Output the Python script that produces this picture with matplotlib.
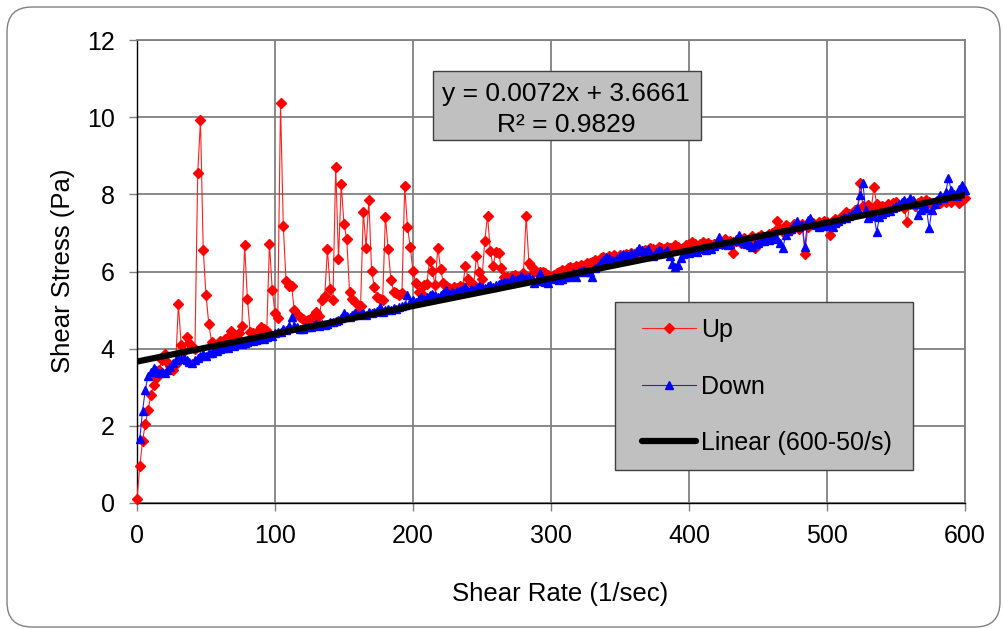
import numpy as np
import matplotlib
matplotlib.use("Agg")
import matplotlib.pyplot as plt
from matplotlib.patches import Rectangle, FancyBboxPatch
from matplotlib.transforms import IdentityTransform

plt.rcParams["font.family"] = ["Liberation Sans", "DejaVu Sans"]

######################################## Data ########################################################################
# shear rate grid, 1/sec (ramp steps of 2)
rate_up = np.arange(0, 601, 2)
rate_down = np.arange(2, 601, 2)

stress_up = [
    0.10, 0.95, 1.60, 2.05, 2.40, 2.80, 3.05, 3.25, 3.45, 3.70,
    3.86, 3.65, 3.55, 3.45, 3.60, 5.15, 4.10, 3.95, 4.30, 4.15,
    4.05, 4.00, 8.55, 9.92, 6.55, 5.40, 4.65, 4.18, 4.10, 4.05,
    4.20, 4.15, 4.25, 4.30, 4.47, 4.35, 4.30, 4.40, 4.60, 6.68,
    5.30, 4.44, 4.40, 4.35, 4.45, 4.57, 4.50, 4.45, 6.72, 5.52,
    4.93, 4.80, 10.38, 7.18, 5.76, 5.62, 5.62, 5.00, 4.90, 4.82,
    4.78, 4.72, 4.75, 4.80, 4.70, 4.96, 4.85, 5.26, 5.36, 6.58,
    5.55, 5.26, 8.72, 6.32, 8.26, 7.23, 6.84, 5.48, 5.30, 5.20,
    4.98, 5.10, 7.54, 6.62, 7.85, 6.02, 5.60, 5.35, 5.30, 5.25,
    7.42, 6.58, 5.78, 5.48, 5.45, 5.40, 5.45, 8.22, 7.16, 6.64,
    6.01, 5.69, 5.48, 5.45, 5.65, 5.67, 6.28, 6.02, 5.65, 6.62,
    6.06, 5.71, 5.62, 5.58, 5.55, 5.60, 5.58, 5.62, 5.60, 6.15,
    5.80, 5.70, 5.65, 6.41, 5.98, 5.80, 6.80, 7.45, 6.54, 6.13,
    6.51, 6.47, 6.10, 5.87, 5.85, 5.84, 5.88, 5.91, 5.85, 5.88,
    5.95, 7.44, 6.21, 6.11, 6.00, 6.00, 5.98, 6.00, 5.95, 5.90,
    5.85, 5.92, 5.95, 6.00, 6.05, 6.02, 6.08, 6.12, 6.10, 6.15,
    6.12, 6.18, 6.15, 6.22, 6.21, 6.25, 6.30, 6.28, 6.35, 6.38,
    6.32, 6.40, 6.38, 6.42, 6.36, 6.43, 6.40, 6.45, 6.42, 6.47,
    6.45, 6.50, 6.48, 6.52, 6.55, 6.50, 6.60, 6.58, 6.55, 6.64,
    6.60, 6.58, 6.64, 6.62, 6.60, 6.69, 6.64, 6.58, 6.62, 6.68,
    6.72, 6.77, 6.70, 6.65, 6.72, 6.77, 6.70, 6.74, 6.68, 6.72,
    6.73, 6.78, 6.70, 6.85, 6.75, 6.80, 6.47, 6.78, 6.82, 6.75,
    6.88, 6.80, 6.85, 6.92, 6.60, 6.90, 6.95, 6.88, 6.90, 6.98,
    7.00, 7.05, 7.32, 7.10, 7.02, 7.20, 7.15, 7.08, 7.23, 7.18,
    7.10, 7.22, 6.45, 7.15, 7.30, 7.25, 7.20, 7.28, 7.18, 7.30,
    7.28, 6.95, 7.32, 7.35, 7.28, 7.40, 7.45, 7.55, 7.48, 7.50,
    7.60, 7.55, 8.29, 7.70, 7.64, 7.72, 7.60, 8.20, 7.75, 7.65,
    7.70, 7.68, 7.75, 7.62, 7.77, 7.80, 7.70, 7.72, 7.65, 7.27,
    7.75, 7.80, 7.70, 7.78, 7.82, 7.75, 7.85, 7.80, 7.72, 7.75,
    7.82, 7.78, 7.85, 7.80, 7.90, 7.80, 7.88, 7.85, 7.77, 7.85,
    7.90,
]

stress_down = [
    1.65, 2.38, 2.93, 3.29, 3.40, 3.49, 3.45, 3.36, 3.40, 3.36,
    3.45, 3.53, 3.62, 3.70, 3.75, 3.72, 3.75, 3.70, 3.65, 3.62,
    3.70, 3.75, 3.80, 3.85, 3.82, 3.88, 3.90, 3.97, 3.95, 4.00,
    4.01, 4.05, 4.03, 4.10, 4.08, 4.15, 4.18, 4.12, 4.14, 4.18,
    4.23, 4.20, 4.22, 4.25, 4.27, 4.25, 4.30, 4.35, 4.33, 4.40,
    4.43, 4.42, 4.50, 4.48, 4.60, 4.83, 4.58, 4.55, 4.50, 4.52,
    4.55, 4.57, 4.55, 4.62, 4.65, 4.60, 4.63, 4.61, 4.65, 4.68,
    4.70, 4.72, 4.75, 4.80, 4.92, 4.85, 4.82, 4.88, 4.92, 4.86,
    4.90, 4.92, 4.88, 4.95, 4.92, 4.96, 4.98, 5.09, 4.96, 5.00,
    5.02, 5.00, 5.05, 5.03, 5.08, 5.10, 5.12, 5.38, 5.20, 5.26,
    5.22, 5.30, 5.34, 5.28, 5.35, 5.39, 5.42, 5.38, 5.35, 5.40,
    5.45, 5.52, 5.42, 5.48, 5.45, 5.50, 5.52, 5.55, 5.61, 5.50,
    5.55, 5.52, 5.58, 5.63, 5.60, 5.58, 5.62, 5.65, 5.60, 5.66,
    5.68, 5.70, 5.74, 5.72, 5.70, 5.82, 5.78, 5.80, 5.88, 5.84,
    5.82, 5.86, 5.80, 5.70, 5.75, 5.95, 5.78, 5.72, 5.69, 5.80,
    5.85, 5.82, 5.78, 5.80, 5.85, 5.87, 5.90, 5.95, 5.87, 5.98,
    6.02, 6.05, 6.00, 5.98, 5.87, 6.10, 6.15, 6.25, 6.30, 6.38,
    6.35, 6.30, 6.28, 6.35, 6.40, 6.45, 6.42, 6.40, 6.48, 6.45,
    6.52, 6.60, 6.55, 6.50, 6.58, 6.45, 6.40, 6.50, 6.55, 6.52,
    6.48, 6.55, 6.40, 6.20, 6.12, 6.17, 6.35, 6.45, 6.50, 6.47,
    6.52, 6.55, 6.50, 6.58, 6.60, 6.55, 6.62, 6.58, 6.65, 6.70,
    6.90, 6.75, 6.70, 6.68, 6.72, 6.80, 6.85, 6.95, 6.80, 6.75,
    6.72, 6.68, 6.64, 6.70, 6.75, 6.80, 6.78, 6.85, 6.82, 6.88,
    6.90, 6.85, 6.75, 6.60, 6.95, 7.05, 7.10, 7.20, 7.32, 7.15,
    7.20, 6.64, 7.34, 7.38, 7.25, 7.20, 7.15, 7.22, 7.25, 7.18,
    7.20, 7.16, 7.25, 7.30, 7.35, 7.40, 7.38, 7.45, 7.50, 7.55,
    7.64, 7.98, 8.29, 7.60, 7.38, 7.50, 7.45, 7.03, 7.40, 7.50,
    7.55, 7.60, 7.58, 7.65, 7.70, 7.75, 7.81, 7.85, 7.80, 7.90,
    7.85, 7.75, 7.46, 7.60, 7.70, 7.65, 7.12, 7.60, 7.75, 7.85,
    7.98, 7.90, 8.05, 8.42, 8.10, 8.00, 7.95, 8.15, 8.24, 8.10,
]

# trendline (600-50/s)
fit_slope = 0.0072
fit_icpt = 3.6661
fit_r2 = 0.9829
fit_range = [0, 600]

x_ticks = [0, 100, 200, 300, 400, 500, 600]
y_ticks = [0, 2, 4, 6, 8, 10, 12]

W, H = 1004, 629


def fx(px):
    return px / W


def fy(py):
    return 1 - py / H


################################################### Figure ###########################################################
fig = plt.figure(figsize=(W / 100, H / 100), dpi=100)
ax = fig.add_axes([fx(137), fy(503), fx(965) - fx(137), fy(40) - fy(503)])

ax.plot(rate_up, stress_up, color="#ff2020", lw=0.8, marker="D", ms=4.7,
        mec="#ff0000", mfc="#ff0000", label="Up", clip_on=False, zorder=3)
ax.plot(rate_down, stress_down, color="#2020ff", lw=0.8, marker="^", ms=6,
        mec="#0000ff", mfc="#0000ff", label="Down", clip_on=False, zorder=3)
fit_x = np.array(fit_range)
ax.plot(fit_x, fit_slope * fit_x + fit_icpt, color="black", lw=4.5,
        solid_capstyle="round", label="Linear (600-50/s)", zorder=4)

ax.set_xlim(0, 600)
ax.set_ylim(0, 12)
ax.set_xticks(x_ticks)
ax.set_yticks(y_ticks)
ax.grid(True, color="#808080", lw=1.3)
ax.set_axisbelow(True)
for side in ["top", "right"]:
    ax.spines[side].set_color("#808080")
    ax.spines[side].set_linewidth(1.3)
for side in ["left", "bottom"]:
    ax.spines[side].set_color("black")
    ax.spines[side].set_linewidth(1.0)
ax.tick_params(axis="both", direction="out", length=6, width=1, color="#808080",
               labelsize=18)
ax.tick_params(axis="y", pad=10)
ax.tick_params(axis="x", pad=9)

ax.set_xlabel("Shear Rate (1/sec)", fontsize=18.5)
ax.set_ylabel("Shear Stress (Pa)", fontsize=18.5)
ax.xaxis.set_label_coords((560.5 - 137) / 828, (503 - 582) / 463)
ax.yaxis.set_label_coords((75 - 137) / 828, (503 - 271) / 463)

# equation box
ax.add_patch(Rectangle((fx(433), fy(140)), fx(701) - fx(433), fy(71) - fy(140),
                       transform=fig.transFigure, facecolor="#c0c0c0",
                       edgecolor="#404040", lw=1, zorder=5, clip_on=False))
ax.text(fx(566), fy(101), "y = %.4fx + %.4f" % (fit_slope, fit_icpt), transform=fig.transFigure,
        ha="center", va="baseline", fontsize=19, zorder=6)
ax.text(fx(566), fy(132), "R² = %.4f" % fit_r2, transform=fig.transFigure,
        ha="center", va="baseline", fontsize=19, zorder=6)

# legend box
ax.add_patch(Rectangle((fx(615), fy(470)), fx(913) - fx(615), fy(302) - fy(470),
                       transform=fig.transFigure, facecolor="#c0c0c0",
                       edgecolor="#404040", lw=1, zorder=5, clip_on=False))
leg = ax.legend(loc="upper left", bbox_to_anchor=(fx(642), fy(318)),
                bbox_transform=fig.transFigure, frameon=False, fontsize=18,
                borderpad=0, borderaxespad=0, handlelength=2.15, handletextpad=0.2,
                labelspacing=1.3, markerscale=1.0)
leg.set_zorder(7)

# rounded outer border
fig.patches.append(FancyBboxPatch((7, 2), 993, 620, boxstyle="round,pad=0,rounding_size=25",
                                  transform=IdentityTransform(), facecolor="none",
                                  edgecolor="#808080", lw=1.0))

plt.savefig("out.png", dpi=100)
plt.close()
